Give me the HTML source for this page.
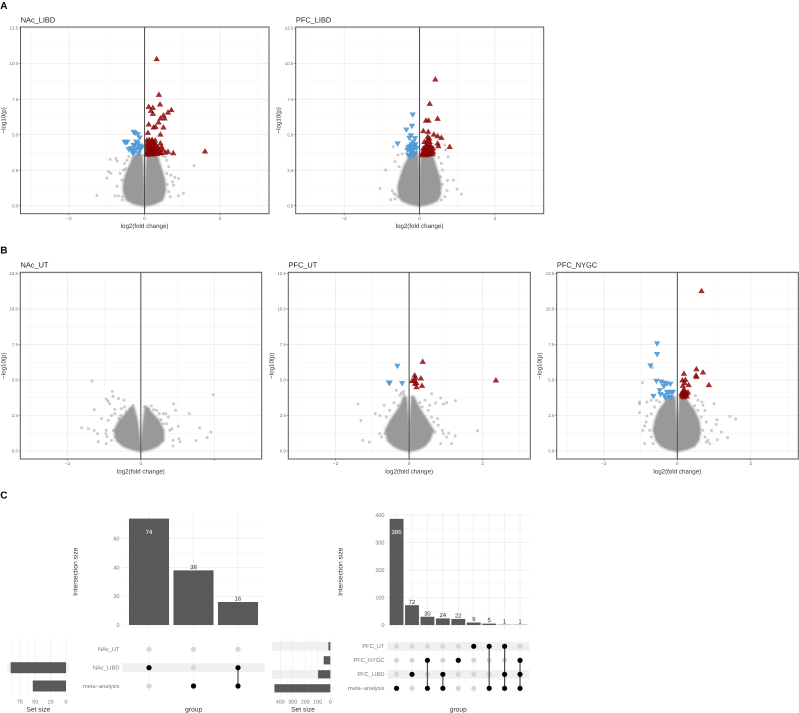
<!DOCTYPE html>
<html lang="en">
<head>
<meta charset="utf-8">
<title>Volcano and UpSet plots</title>
<style>
html,body{margin:0;padding:0;background:#fff;width:799px;height:713px;overflow:hidden}
svg{display:block;font-family:"Liberation Sans",sans-serif;text-rendering:geometricPrecision}
</style>
</head>
<body>
<svg id="fig" xmlns="http://www.w3.org/2000/svg" width="799" height="713" viewBox="0 0 799 713">
<defs>
<filter id="soft-halo" x="-20%" y="-20%" width="140%" height="140%"><feGaussianBlur stdDeviation="0.9"/></filter>
<filter id="soft-core" x="-20%" y="-20%" width="140%" height="140%"><feGaussianBlur stdDeviation="0.45"/></filter>
</defs>
</svg>
<script>
// ---------- Volcano data: [log2FC, -log10(p)] ----------
const xTicks = [-2, 0, 2];
const xMinorTicks = [-3, -1, 1, 3];
const yTicks = [0, 2.5, 5, 7.5, 10, 12.5];
const yTickLabels = ['0.0', '2.5', '5.0', '7.5', '10.0', '12.5'];
const yMinorTicks = [1.25, 3.75, 6.25, 8.75, 11.25];

const nacLibdUp = [[.32,10.33],[.38,7.82],[.41,7.14],[.11,6.97],[.22,6.9],[.17,6.69],[.22,6.48],[.71,6.74],[.62,6.57],[.5,6.36],[.42,6.15],[.53,6.15],[.37,5.87],[.11,5.73],[.29,5.56],[.24,5.52],[.5,5.52],[.09,5.14],[.42,5.02],[1.6,3.83],[.76,3.71],[.62,3.8],[.06,4.6],[.12,4.65],[.2,4.65],[.28,4.6],[.1,4.3],[.16,4.4],[.22,4.3],[.3,4.3],[.42,4.4],[.06,4.0],[.12,4.05],[.18,4.1],[.24,4.05],[.3,4.0],[.36,4.1],[.45,4.15],[.05,3.7],[.1,3.75],[.15,3.8],[.2,3.7],[.25,3.8],[.3,3.75],[.35,3.85],[.4,3.7],[.48,3.95],[.55,3.75],[.08,3.85],[.13,3.65],[.18,3.9],[.22,4.5],[.14,4.2],[.27,4.2],[.05,4.2],[.33,3.65],[.17,3.62],[.24,3.62],[.45,3.72],[.08,4.45],[.18,4.55],[.26,4.42],[.07,3.6],[.21,3.85],[.28,3.9],[.11,3.95],[.16,4.0],[.38,3.95]];
const nacLibdDown = [[-.29,5.19],[-.25,5.12],[-.18,5.02],[-.13,4.79],[-.53,4.5],[-.49,4.44],[-.46,4.5],[-.18,4.39],[-.29,4.25],[-.12,4.22],[-.2,4.1],[-.42,3.97],[-.36,4.04],[-.25,3.92],[-.13,3.92],[-.31,3.69],[-.16,3.69],[-.27,4.28],[-.07,4.15],[-.22,4.5],[-.33,3.85],[-.1,4.05],[-.28,3.75]];
const nacLibdGrey = [[1.31,2.82],[-.76,3.33],[-.91,3.26],[-.72,3.15],[-.53,2.98],[-.95,2.4],[-.89,2.28],[-1,1.95],[-1.26,.73],[.8,2],[.9,1.92],[.74,1.69],[.77,1.45],[1.03,.87],[.9,.7],[.68,.63],[.64,.99],[-.73,1.38],[-.78,.7],[-.69,.68],[-.59,.63],[-.59,.4],[-.6,1.8],[-.65,2.28],[-.56,2.51],[-.47,3.2],[-.42,3.45],[.55,3.45],[.64,2.75],[.59,2.28],[.7,2.16],[.59,3.2],[.48,3.5],[-.5,2.6],[.6,1.5]];
const nacLibdCoreY = [0, .05, .15, .4, .7, 1.1, 1.8, 2.5, 3, 3.45, 3.6];
const nacLibdOuterL = [-.02, -.14, -.28, -.47, -.52, -.56, -.54, -.45, -.36, -.3, -.22];
const nacLibdInnerL = [0, 0, -.005, -.01, -.01, -.015, -.03, -.04, -.05, -.07, -.08];
const nacLibdInnerR = [0, 0, .005, .01, .01, .015, .03, .04, .05, .07, .08];
const nacLibdOuterR = [.02, .14, .28, .47, .51, .55, .53, .45, .39, .35, .25];

const pfcLibdUp = [[.42,8.9],[.27,7.18],[.48,6.13],[.17,6],[.24,6],[.1,5.26],[.23,5.21],[.38,5.02],[.48,4.9],[.58,4.79],[.22,4.86],[.26,4.74],[.13,4.5],[.27,4.5],[.48,4.39],[.5,4.2],[.8,4.15],[.19,4.34],[.36,4.04],[.1,4.04],[.23,4.15],[.08,3.69],[.14,3.8],[.23,3.92],[.29,3.73],[.36,3.8],[.17,3.64],[.26,3.64],[.06,3.57],[.35,3.64],[.2,3.57],[.15,4.04],[.3,4.15],[.12,3.65],[.28,4.3],[.18,3.85],[.11,3.9],[.26,3.85],[.18,4.2],[.21,4.6],[.31,3.9]];
const pfcLibdDown = [[-.18,6.41],[-.2,5.61],[-.35,5.35],[-.23,4.95],[-.12,4.74],[-.27,4.77],[-.58,4.37],[-.17,4.5],[-.21,4.32],[-.11,4.32],[-.3,4.1],[-.21,4.1],[-.12,4.1],[-.26,3.92],[-.17,3.92],[-.08,4.04],[-.3,3.57],[-.21,3.69],[-.12,3.69],[-.17,3.5],[-.24,3.5],[-.32,3.92],[-.15,4.2],[-.25,4.2],[-.2,3.85],[-.14,3.6]];
const pfcLibdGrey = [[-.9,2.51],[-1.05,1.22],[-.77,.42],[-.7,4.15],[-.57,3.57],[-.46,3.64],[-.65,3.1],[-.54,2.75],[-.72,1.06],[-.63,.75],[-.56,.63],[-.65,.47],[-.68,.87],[-.52,1.69],[.9,1.8],[.74,1.78],[1,1.17],[1.11,.82],[.73,1.06],[.67,.63],[.58,.4],[.54,.87],[.61,2.51],[.69,3.92],[.76,3.45],[.51,3.4],[.58,2.98],[.67,4.27],[.56,2.04],[.6,1.5]];
const pfcLibdCoreY = [0, .05, .15, .35, .63, 1.34, 2.04, 2.75, 3.2, 3.57, 3.7];
const pfcLibdOuterL = [-.02, -.14, -.28, -.46, -.54, -.57, -.5, -.41, -.32, -.27, -.2];
const pfcLibdInnerL = [0, 0, -.005, -.01, -.01, -.015, -.02, -.03, -.04, -.05, -.05];
const pfcLibdInnerR = [0, 0, .005, .01, .01, .015, .02, .03, .04, .05, .05];
const pfcLibdOuterR = [.02, .14, .28, .46, .53, .56, .52, .43, .38, .33, .25];

const nacUtUp = [];
const nacUtDown = [];
const nacUtGrey = [[-1.33,4.93],[-.78,4.2],[-.76,3.85],[-.61,3.69],[-.46,3.57],[-.94,3.66],[-.89,3.5],[-.85,3.33],[-1.27,2.91],[-.71,2.93],[-.53,2.98],[-.44,3.1],[-.21,3.2],[-1.07,2.28],[-.89,2.16],[-.8,2.5],[-.71,2.63],[-1.61,1.64],[-1.43,1.57],[-1.27,1.45],[-1.18,1.22],[-1.16,.66],[-.94,1.45],[-.95,1.22],[-.92,1],[-.94,.52],[-.8,.75],[-.75,1.45],[-.71,1],[1.97,3.97],[.89,3.33],[.95,2.86],[1.32,2.63],[1.6,1.64],[1.91,1.34],[1.81,.94],[1.51,.73],[1.02,1.74],[1.04,.87],[1.07,.66],[.88,.75],[.88,.35],[.85,1.57],[.79,1.45],[.7,1.92],[.61,2.63],[.68,2.63],[.75,2.39],[.43,2.86],[.29,3.17],[.11,3.1],[.5,2.63],[.61,1.92],[-.3,2.95],[-.4,2.75],[.22,2.95],[.35,2.9],[-.6,2.3],[-.55,2.5],[.55,2.2]];
const nacUtCoreY = [0, .05, .15, .35, .75, 1.45, 2.16, 2.75, 3.1];
const nacUtOuterL = [-.02, -.14, -.28, -.48, -.66, -.72, -.58, -.36, -.26];
const nacUtInnerL = [0, 0, 0, -.01, -.03, -.06, -.1, -.16, -.2];
const nacUtInnerR = [0, 0, 0, .01, .03, .05, .08, .11, .12];
const nacUtOuterR = [.02, .14, .28, .46, .62, .62, .48, .27, .16];

const pfcUtUp = [[.37,6.29],[2.36,4.98],[.15,5.33],[.17,5.16],[.32,5.12],[.08,4.93],[.15,4.98],[.2,4.79],[.16,4.74],[.35,4.6],[.2,4.5]];
const pfcUtDown = [[-.32,5.99],[-.53,4.79],[-.55,4.81],[-.19,4.77]];
const pfcUtGrey = [[-.35,4.27],[-.21,4.08],[-.15,3.99],[-.25,3.92],[-.15,4.2],[.08,3.8],[.61,4.04],[.86,3.73],[.72,3.38],[.93,3.29],[1.02,3.4],[1.26,3.54],[.56,3.22],[.43,3.57],[.29,3.4],[-1.39,3.31],[-1.31,2.14],[-.92,2.63],[-.8,2.49],[-.68,3.22],[-.41,3.4],[-.62,2.39],[-.53,2.86],[-1.26,.75],[-1.08,.63],[-.75,.99],[-.8,1.22],[-.66,1.22],[1.86,1.43],[1.25,1.06],[1.15,.52],[.93,1.22],[1.08,1.27],[1.02,.99],[.86,.52],[.91,1.45],[.79,1.81],[.67,2.04],[.61,2.39],[.52,2.86],[.7,1.34],[.77,2.28],[.35,3.1],[-.3,3.2]];
const pfcUtCoreY = [0, .05, .15, .35, .75, 1.45, 2.16, 2.87, 3.33, 3.8];
const pfcUtOuterL = [-.02, -.14, -.26, -.42, -.58, -.64, -.5, -.31, -.21, -.15];
const pfcUtInnerL = [0, 0, -.005, -.005, -.01, -.02, -.03, -.05, -.06, -.08];
const pfcUtInnerR = [0, 0, .005, .005, .01, .02, .03, .05, .06, .08];
const pfcUtOuterR = [.02, .14, .26, .42, .55, .66, .49, .31, .21, .13];

const pfcNygcUp = [[.66,11.27],[.52,5.77],[.7,5.54],[.18,5.45],[.51,5.33],[.52,5.23],[.86,4.65],[.22,5.02],[.14,4.98],[.2,4.79],[.31,4.65],[.15,4.6],[.29,4.15],[.2,4.27],[.11,4.04],[.15,4.15],[.2,3.99],[.25,3.85],[.14,3.85],[.18,3.8],[.26,4.04],[.17,4.3],[.22,4.1],[.13,3.95],[.16,4.05],[.24,3.92]];
const pfcNygcDown = [[-.55,7.56],[-.55,6.81],[-.73,6.01],[-.57,4.93],[-.44,4.88],[-.35,4.79],[-.28,4.74],[-.19,4.72],[-.37,4.55],[-.48,4.27],[-.46,3.99],[-.65,3.87],[-.35,3.92],[-.28,4.15],[-.21,3.8],[-.16,4.15],[-.12,4.15],[-.23,4.08],[-.18,3.76],[-.32,3.73]];
const pfcNygcGrey = [[-.68,5.88],[-.95,4.81],[-1.03,3.45],[-1.03,3.33],[-1.03,2.7],[-.83,3.45],[-.71,3.57],[-.57,3.57],[-.48,3.45],[-.83,2.46],[-.85,2.04],[-.89,1.76],[-.94,1.45],[-.89,.52],[-.66,.52],[-.71,.99],[-.75,1.45],[-.71,2.63],[-.62,3.1],[.49,3.9],[.67,3.45],[.56,3.57],[1,3.33],[.75,2.86],[.7,3.22],[1.43,2.44],[1.59,2.25],[1.08,2.2],[1.06,1.88],[1.2,1.34],[1.09,.8],[1.37,.94],[.88,.52],[.79,.63],[.75,.99],[.84,.75],[.7,1.45],[.79,2.04],[.65,2.39],[.56,2.86],[.47,3.19],[.61,1.22],[.93,1.45]];
const pfcNygcCoreY = [0, .05, .15, .35, .75, 1.45, 2.16, 2.87, 3.33, 3.8];
const pfcNygcOuterL = [-.02, -.14, -.28, -.44, -.57, -.65, -.6, -.49, -.36, -.25];
const pfcNygcInnerL = [0, 0, -.005, -.005, -.01, -.02, -.03, -.05, -.06, -.07];
const pfcNygcInnerR = [0, 0, .005, .005, .01, .02, .03, .05, .06, .07];
const pfcNygcOuterR = [.02, .14, .28, .46, .58, .62, .58, .45, .32, .2];

// ---------- UpSet data ----------
const upsetLeftSets = ['NAc_UT', 'NAc_LIBD', 'meta\u2212analysis'];
const upsetLeftValues = [74, 38, 16];
const upsetLeftMembers = [[1], [2], [1, 2]];
const upsetLeftSetSizes = [0, 90, 54];
const upsetLeftYTicks = [0, 20, 40, 60];
const upsetLeftYMinor = [10, 30, 50, 70];
const upsetLeftSizeTicks = [75, 50, 25, 0];
const upsetLeftSizeMinor = [87.5, 62.5, 37.5, 12.5];

const upsetRightSets = ['PFC_UT', 'PFC_NYGC', 'PFC_LIBD', 'meta\u2212analysis'];
const upsetRightValues = [386, 72, 30, 24, 22, 9, 5, 1, 1];
const upsetRightMembers = [[3], [2], [1, 3], [2, 3], [1], [0], [0, 3], [0, 2, 3], [1, 2, 3]];
const upsetRightSetSizes = [15, 53, 98, 447];
const upsetRightYTicks = [0, 100, 200, 300, 400];
const upsetRightYMinor = [50, 150, 250, 350];
const upsetRightSizeTicks = [400, 300, 200, 100, 0];
const upsetRightSizeMinor = [350, 250, 150, 50];

// ---------- drawing ----------
const NS = 'http://www.w3.org/2000/svg';
const fig = document.getElementById('fig');
function mk(parent, tag, attrs, text) {
  const el = document.createElementNS(NS, tag);
  for (const k in attrs) el.setAttribute(k, attrs[k]);
  if (text !== undefined) el.textContent = text;
  parent.appendChild(el);
  return el;
}
function label(parent, x, y, str, size, fill, anchor, rot, weight) {
  const a = {x: x, y: y, 'font-size': size, fill: fill, 'text-anchor': anchor || 'middle'};
  if (rot) a.transform = 'rotate(' + rot + ' ' + x + ' ' + y + ')';
  if (weight) a['font-weight'] = weight;
  return mk(parent, 'text', a, str);
}
const pts = a => a.map(p => p[0].toFixed(2) + ',' + p[1].toFixed(2)).join(' ');

function drawVolcano(cfg) {
  const g = mk(fig, 'g', {});
  
  
  const X0 = -3.285, X1 = 3.295, Y0 = -.563, Y1 = 12.58;
  const sx = v => cfg.left + (v - X0) / (X1 - X0) * (cfg.right - cfg.left);
  const sy = v => cfg.bottom - (v - Y0) / (Y1 - Y0) * (cfg.bottom - cfg.top);
  const title = label(g, cfg.left + .2, cfg.top - 4.6, cfg.title, 7.4, '#222', 'start');
  
  
  const bg = mk(g, 'rect', {x: cfg.left, y: cfg.top, width: cfg.right - cfg.left, height: cfg.bottom - cfg.top, fill: '#fff'});
  
  
  const grid = mk(g, 'g', {});
  
  
  xMinorTicks.forEach(v => mk(grid, 'line', {x1: sx(v), x2: sx(v), y1: cfg.top, y2: cfg.bottom, stroke: '#f0f0f0', 'stroke-width': .4}));
  yMinorTicks.forEach(v => mk(grid, 'line', {x1: cfg.left, x2: cfg.right, y1: sy(v), y2: sy(v), stroke: '#f0f0f0', 'stroke-width': .4}));
  xTicks.forEach(v => mk(grid, 'line', {x1: sx(v), x2: sx(v), y1: cfg.top, y2: cfg.bottom, stroke: '#e6e6e6', 'stroke-width': .6}));
  yTicks.forEach(v => mk(grid, 'line', {x1: cfg.left, x2: cfg.right, y1: sy(v), y2: sy(v), stroke: '#e6e6e6', 'stroke-width': .6}));

  // overplotted non-significant genes: dense core as two lobes with a lighter fringe
  const coreY = cfg.coreY;
  const lobeL = coreY.map((y, i) => [sx(cfg.outerL[i]), sy(y)]).concat(coreY.map((y, i) => [sx(cfg.innerL[i]), sy(y)]).reverse());
  const lobeR = coreY.map((y, i) => [sx(cfg.innerR[i]), sy(y)]).concat(coreY.map((y, i) => [sx(cfg.outerR[i]), sy(y)]).reverse());
  [lobeL, lobeR].forEach(lobe => {
    const halo = mk(g, 'polygon', {points: pts(lobe), fill: '#a8a8a8', stroke: '#b4b4b4', 'stroke-opacity': .6, 'stroke-width': 3.4, 'stroke-linejoin': 'round', filter: 'url(#soft-halo)'});
    
    
  });
  const left = mk(g, 'polygon', {points: pts(lobeL), fill: '#999', filter: 'url(#soft-core)'});
  
  
  const right = mk(g, 'polygon', {points: pts(lobeR), fill: '#999', filter: 'url(#soft-core)'});
  
  
  cfg.grey.forEach(p => {
    const c = mk(g, 'circle', {cx: sx(p[0]), cy: sy(p[1]), r: 1.5, fill: '#999', 'fill-opacity': .5});
    
    
  });
  cfg.down.forEach(p => {
    const x = sx(p[0]), y = sy(p[1]);
    const t = mk(g, 'polygon', {points: pts([[x - 3.2, y - 2.2], [x + 3.2, y - 2.2], [x, y + 3.2]]), fill: '#5098d6', 'fill-opacity': .9});
    
    
  });
  cfg.up.forEach(p => {
    const x = sx(p[0]), y = sy(p[1]);
    const t = mk(g, 'polygon', {points: pts([[x - 3.2, y + 2.2], [x + 3.2, y + 2.2], [x, y - 3.2]]), fill: '#8b0000', 'fill-opacity': .82});
    
    
  });
  const zero = mk(g, 'line', {x1: sx(0), x2: sx(0), y1: cfg.top, y2: cfg.bottom, stroke: '#4a4a4a', 'stroke-width': 1});
  
  
  const border = mk(g, 'rect', {x: cfg.left, y: cfg.top, width: cfg.right - cfg.left, height: cfg.bottom - cfg.top, fill: 'none', stroke: '#5a5a5a', 'stroke-width': 1});
  
  

  xTicks.forEach(v => {
    mk(g, 'line', {x1: sx(v), x2: sx(v), y1: cfg.bottom, y2: cfg.bottom + 1.6, stroke: '#444', 'stroke-width': .5});
    if (cfg.hideX && cfg.hideX.includes(v)) return;
    const t = label(g, sx(v), cfg.bottom + 6.1, v < 0 ? '\u2212' + (-v) : String(v), 4.6, '#666');
    
    
  });
  yTicks.forEach((v, i) => {
    mk(g, 'line', {x1: cfg.left - 1.6, x2: cfg.left, y1: sy(v), y2: sy(v), stroke: '#444', 'stroke-width': .5});
    const t = label(g, cfg.left - 2.4, sy(v) + 1.6, yTickLabels[i], 4.4, '#666', 'end');
    
    
  });
  const xt = label(g, sx(0), cfg.bottom + 14.4, 'log2(fold change)', 6.2, '#333');
  
  
  const ymid = (cfg.top + cfg.bottom) / 2;
  const yt = label(g, cfg.left - 15, ymid, '\u2212log10(p)', 6.2, '#333', 'middle', -90);
  
  
}

drawVolcano({name: 'volcano-nac-libd', title: 'NAc_LIBD', left: 20.5, right: 269, top: 27, bottom: 213.7, up: nacLibdUp, down: nacLibdDown, grey: nacLibdGrey, coreY: nacLibdCoreY, outerL: nacLibdOuterL, innerL: nacLibdInnerL, innerR: nacLibdInnerR, outerR: nacLibdOuterR});
drawVolcano({name: 'volcano-pfc-libd', title: 'PFC_LIBD', left: 295.7, right: 543.7, top: 27, bottom: 213.7, up: pfcLibdUp, down: pfcLibdDown, grey: pfcLibdGrey, coreY: pfcLibdCoreY, outerL: pfcLibdOuterL, innerL: pfcLibdInnerL, innerR: pfcLibdInnerR, outerR: pfcLibdOuterR});
drawVolcano({name: 'volcano-nac-ut', title: 'NAc_UT', left: 20.3, right: 261.7, top: 272.3, bottom: 459, up: nacUtUp, down: nacUtDown, grey: nacUtGrey, hideX: [2], coreY: nacUtCoreY, outerL: nacUtOuterL, innerL: nacUtInnerL, innerR: nacUtInnerR, outerR: nacUtOuterR});
drawVolcano({name: 'volcano-pfc-ut', title: 'PFC_UT', left: 288.3, right: 530.3, top: 272.3, bottom: 459, up: pfcUtUp, down: pfcUtDown, grey: pfcUtGrey, coreY: pfcUtCoreY, outerL: pfcUtOuterL, innerL: pfcUtInnerL, innerR: pfcUtInnerR, outerR: pfcUtOuterR});
drawVolcano({name: 'volcano-pfc-nygc', title: 'PFC_NYGC', left: 556.7, right: 798.3, top: 272.3, bottom: 459, up: pfcNygcUp, down: pfcNygcDown, grey: pfcNygcGrey, coreY: pfcNygcCoreY, outerL: pfcNygcOuterL, innerL: pfcNygcInnerL, innerR: pfcNygcInnerR, outerR: pfcNygcOuterR});

function drawUpset(cfg) {
  const g = mk(fig, 'g', {});
  
  
  const n = cfg.values.length;
  const step = (cfg.right - cfg.left) / (n + .2);
  const cx = i => cfg.left + (i + .6) * step;
  const sy = v => cfg.y0 - v * cfg.yScale;
  const sz = v => cfg.size0 - v * cfg.sizeScale;
  const ry = i => cfg.rowY[i];
  const gridTop = 513, gridBottom = 630;

  // intersection-size panel
  cfg.yMinor.forEach(v => mk(g, 'line', {x1: cfg.left, x2: cfg.right, y1: sy(v), y2: sy(v), stroke: '#f0f0f0', 'stroke-width': .4}));
  cfg.yTicks.forEach(v => mk(g, 'line', {x1: cfg.left, x2: cfg.right, y1: sy(v), y2: sy(v), stroke: '#e8e8e8', 'stroke-width': .6}));
  cfg.values.forEach((v, i) => mk(g, 'line', {x1: cx(i), x2: cx(i), y1: gridTop, y2: gridBottom, stroke: '#e8e8e8', 'stroke-width': .6}));
  cfg.yTicks.forEach(v => {
    const t = label(g, cfg.left - 2.8, sy(v) + 1.9, String(v), 5.5, '#777', 'end');
    
    
  });
  const yt = label(g, cfg.left - 44.8, 571.7, 'Intersection size', 6.7, '#333', 'middle', -90);
  
  
  const maxV = Math.max(...cfg.values);
  cfg.values.forEach((v, i) => {
    const bw = step * .9;
    const b = mk(g, 'rect', {x: cx(i) - bw / 2, y: sy(v), width: bw, height: v * cfg.yScale, fill: '#595959'});
    
    
    const inside = v > maxV * .8;
    const t = label(g, cx(i), inside ? sy(v) + 15.2 : sy(v) - 1.4, String(v), 6, inside ? '#fff' : '#333');
    
    
  });

  // matrix stripes, dots and connecting lines
  cfg.stripeRows.forEach(r => {
    const s = mk(g, 'rect', {x: cfg.left, y: ry(r) - 4.4, width: cfg.right - cfg.left, height: 8.8, fill: '#f0f0f0'});
    
    
    const s2 = mk(g, 'rect', {x: cfg.stripeX0, y: ry(r) - 4.4, width: cfg.stripeX1 - cfg.stripeX0, height: 8.8, fill: '#f0f0f0'});
    
    
  });
  cfg.values.forEach((v, i) => mk(g, 'line', {x1: cx(i), x2: cx(i), y1: cfg.rowY[0] - 6, y2: cfg.rowY[cfg.rowY.length - 1] + 6, stroke: '#ebebeb', 'stroke-width': .5}));
  cfg.sets.forEach((name, r) => {
    const t = label(g, cfg.left - 2.8, ry(r) + 1.9, name, 5.7, '#777', 'end');
    
    
    cfg.values.forEach((v, i) => {
      const c = mk(g, 'circle', {cx: cx(i), cy: ry(r), r: 2.6, fill: '#d6d6d6'});
      
      
    });
  });
  cfg.members.forEach((m, i) => {
    if (m.length > 1) {
      const l = mk(g, 'line', {x1: cx(i), x2: cx(i), y1: ry(Math.min(...m)), y2: ry(Math.max(...m)), stroke: '#4d4d4d', 'stroke-width': 1.2});
      
      
    }
    m.forEach(r => {
      const c = mk(g, 'circle', {cx: cx(i), cy: ry(r), r: 2.6, fill: '#000'});
      
      
    });
  });
  const gt = label(g, cfg.groupX, 711.4, 'group', 6.7, '#333');
  
  

  // set-size panel
  cfg.sizeMinor.forEach(v => mk(g, 'line', {x1: sz(v), x2: sz(v), y1: 638, y2: 698, stroke: '#f0f0f0', 'stroke-width': .4}));
  cfg.sizeTicks.forEach(v => {
    mk(g, 'line', {x1: sz(v), x2: sz(v), y1: 638, y2: 698, stroke: '#e8e8e8', 'stroke-width': .6});
    const t = label(g, sz(v), 703.6, String(v), 5.4, '#777');
    
    
  });
  cfg.sizes.forEach((v, r) => {
    if (!v) return;
    const b = mk(g, 'rect', {x: sz(v), y: ry(r) - cfg.barH / 2, width: v * cfg.sizeScale, height: cfg.barH, fill: '#595959'});
    
    
  });
  const st = label(g, cfg.sizeTitleX, 711.4, 'Set size', 6.7, '#333');
  
  
}

drawUpset({name: 'upset-nac', left: 122.3, right: 264.7, y0: 625, yScale: 1.438, values: upsetLeftValues, members: upsetLeftMembers, sets: upsetLeftSets, sizes: upsetLeftSetSizes, rowY: [649.3, 667.7, 686], stripeRows: [1], stripeX0: 7.3, stripeX1: 69, yTicks: upsetLeftYTicks, yMinor: upsetLeftYMinor, size0: 66, sizeScale: .615, sizeTicks: upsetLeftSizeTicks, sizeMinor: upsetLeftSizeMinor, barH: 11, groupX: 193.7, sizeTitleX: 38.3});
drawUpset({name: 'upset-pfc', left: 387.3, right: 529.3, y0: 625, yScale: .275, values: upsetRightValues, members: upsetRightMembers, sets: upsetRightSets, sizes: upsetRightSetSizes, rowY: [646.3, 660.3, 674.3, 688.3], stripeRows: [0, 2], stripeX0: 272.3, stripeX1: 331.7, yTicks: upsetRightYTicks, yMinor: upsetRightYMinor, size0: 330.3, sizeScale: .125, sizeTicks: upsetRightSizeTicks, sizeMinor: upsetRightSizeMinor, barH: 8.2, groupX: 458.3, sizeTitleX: 303});

// panel tags
const tagA = label(fig, 0.3, 9, 'A', 10, '#000', 'start', 0, 'bold');


const tagB = label(fig, 0.3, 253.5, 'B', 10, '#000', 'start', 0, 'bold');


const tagC = label(fig, 0.3, 498.5, 'C', 10, '#000', 'start', 0, 'bold');


</script>
</body>
</html>
